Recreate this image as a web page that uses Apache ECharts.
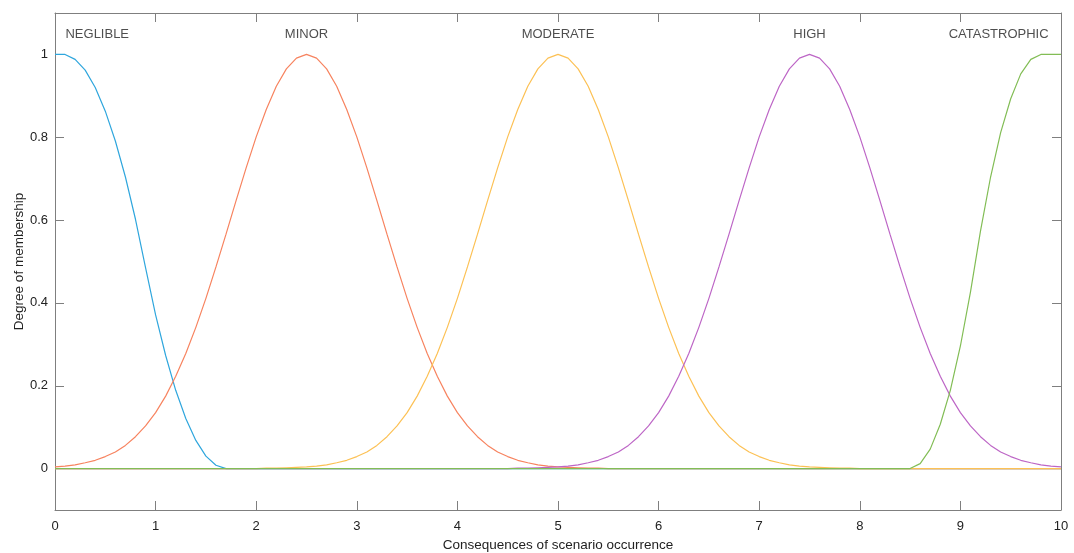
<!DOCTYPE html>
<html>
<head>
<meta charset="utf-8">
<script src="https://cdn.jsdelivr.net/npm/echarts@6/dist/echarts.min.js"></script>
<style>
  html, body { margin: 0; padding: 0; background: #ffffff; }
  #chart { width: 1074px; height: 553px; }
</style>
</head>
<body>
<div id="chart"></div>
<script>
// x sampling positions (0 to 10, step 0.1)
const xValues = [
  0.0,0.1,0.2,0.3,0.4,0.5,0.6,0.7,0.8,0.9,
  1.0,1.1,1.2,1.3,1.4,1.5,1.6,1.7,1.8,1.9,
  2.0,2.1,2.2,2.3,2.4,2.5,2.6,2.7,2.8,2.9,
  3.0,3.1,3.2,3.3,3.4,3.5,3.6,3.7,3.8,3.9,
  4.0,4.1,4.2,4.3,4.4,4.5,4.6,4.7,4.8,4.9,
  5.0,5.1,5.2,5.3,5.4,5.5,5.6,5.7,5.8,5.9,
  6.0,6.1,6.2,6.3,6.4,6.5,6.6,6.7,6.8,6.9,
  7.0,7.1,7.2,7.3,7.4,7.5,7.6,7.7,7.8,7.9,
  8.0,8.1,8.2,8.3,8.4,8.5,8.6,8.7,8.8,8.9,
  9.0,9.1,9.2,9.3,9.4,9.5,9.6,9.7,9.8,9.9,
  10.0
];

const negligible = [
  1.000,1.000,0.988,0.962,0.920,0.863,0.791,0.704,0.602,0.485,
  0.371,0.273,0.189,0.121,0.068,0.030,0.008,0,0,0,
  0,0,0,0,0,0,0,0,0,0,
  0,0,0,0,0,0,0,0,0,0,
  0,0,0,0,0,0,0,0,0,0,
  0,0,0,0,0,0,0,0,0,0,
  0,0,0,0,0,0,0,0,0,0,
  0,0,0,0,0,0,0,0,0,0,
  0,0,0,0,0,0,0,0,0,0,
  0,0,0,0,0,0,0,0,0,0,
  0
];

const minor = [
  0.004,0.006,0.009,0.014,0.020,0.029,0.040,0.056,0.077,0.103,
  0.135,0.175,0.223,0.278,0.341,0.411,0.487,0.566,0.647,0.726,
  0.801,0.867,0.923,0.965,0.991,1.000,0.991,0.965,0.923,0.867,
  0.801,0.726,0.647,0.566,0.487,0.411,0.341,0.278,0.223,0.175,
  0.135,0.103,0.077,0.056,0.040,0.029,0.020,0.014,0.009,0.006,
  0.004,0.003,0.002,0.001,0.001,0,0,0,0,0,
  0,0,0,0,0,0,0,0,0,0,
  0,0,0,0,0,0,0,0,0,0,
  0,0,0,0,0,0,0,0,0,0,
  0,0,0,0,0,0,0,0,0,0,
  0
];

const moderate = [
  0,0,0,0,0,0,0,0,0,0,
  0,0,0,0,0,0,0,0,0,0,
  0,0.001,0.001,0.002,0.003,0.004,0.006,0.009,0.014,0.020,
  0.029,0.040,0.056,0.077,0.103,0.135,0.175,0.223,0.278,0.341,
  0.411,0.487,0.566,0.647,0.726,0.801,0.867,0.923,0.965,0.991,
  1.000,0.991,0.965,0.923,0.867,0.801,0.726,0.647,0.566,0.487,
  0.411,0.341,0.278,0.223,0.175,0.135,0.103,0.077,0.056,0.040,
  0.029,0.020,0.014,0.009,0.006,0.004,0.003,0.002,0.001,0.001,
  0,0,0,0,0,0,0,0,0,0,
  0,0,0,0,0,0,0,0,0,0,
  0
];

const high = [
  0,0,0,0,0,0,0,0,0,0,
  0,0,0,0,0,0,0,0,0,0,
  0,0,0,0,0,0,0,0,0,0,
  0,0,0,0,0,0,0,0,0,0,
  0,0,0,0,0,0,0.001,0.001,0.002,0.003,
  0.004,0.006,0.009,0.014,0.020,0.029,0.040,0.056,0.077,0.103,
  0.135,0.175,0.223,0.278,0.341,0.411,0.487,0.566,0.647,0.726,
  0.801,0.867,0.923,0.965,0.991,1.000,0.991,0.965,0.923,0.867,
  0.801,0.726,0.647,0.566,0.487,0.411,0.341,0.278,0.223,0.175,
  0.135,0.103,0.077,0.056,0.040,0.029,0.020,0.014,0.009,0.006,
  0.004
];

const catastrophic = [
  0,0,0,0,0,0,0,0,0,0,
  0,0,0,0,0,0,0,0,0,0,
  0,0,0,0,0,0,0,0,0,0,
  0,0,0,0,0,0,0,0,0,0,
  0,0,0,0,0,0,0,0,0,0,
  0,0,0,0,0,0,0,0,0,0,
  0,0,0,0,0,0,0,0,0,0,
  0,0,0,0,0,0,0,0,0,0,
  0,0,0,0,0,0,0.012,0.047,0.107,0.189,
  0.296,0.426,0.574,0.704,0.811,0.893,0.953,0.988,1.000,1.000,
  1.000
];

const seriesNames = ['NEGLIBLE', 'MINOR', 'MODERATE', 'HIGH', 'CATASTROPHIC'];
const seriesValues = [negligible, minor, moderate, high, catastrophic];
const seriesColors = ['#2fa6dd', '#f7835f', '#fcc155', '#bd66c6', '#82bd55'];

// term label anchor positions (x in data units), placed above the curves
const termLabelX = [0.42, 2.5, 5.0, 7.5, 9.38];
const termLabelY = 1.048;

const xTicks = [0,1,2,3,4,5,6,7,8,9,10];
const yTicks = [0, 0.2, 0.4, 0.6, 0.8, 1];

const axisColor = '#7f7f7f';
const textColor = '#222222';
const fontFamily = '"Liberation Sans", Arial, Helvetica, sans-serif';

const chart = echarts.init(document.getElementById('chart'), null, { renderer: 'canvas' });

const lineSeries = seriesNames.map((name, k) => ({
  name: name,
  type: 'line',
  showSymbol: false,
  symbol: 'none',
  animation: false,
  data: xValues.map((x, i) => [x, seriesValues[k][i]]),
  lineStyle: { color: seriesColors[k], width: 1.2 },
  itemStyle: { color: seriesColors[k] },
  z: 2 + k
}));

const labelSeries = {
  type: 'scatter',
  symbolSize: 0,
  silent: true,
  animation: false,
  data: seriesNames.map((n, k) => ({ value: [termLabelX[k], termLabelY], name: n })),
  label: {
    show: true,
    position: 'inside',
    formatter: p => p.name,
    color: textColor,
    fontSize: 13,
    fontFamily: fontFamily
  },
  z: 10
};

const option = {
  backgroundColor: '#ffffff',
  animation: false,
  grid: { left: 55, right: 13, top: 13, bottom: 43, containLabel: false, outerBoundsMode: 'none' },
  xAxis: [
    {
      type: 'value',
      min: 0, max: 10, interval: 1,
      position: 'bottom',
      name: 'Consequences of scenario occurrence',
      nameLocation: 'middle',
      nameGap: 28,
      nameMoveOverlap: false,
      nameTextStyle: { color: textColor, fontSize: 13.5, fontFamily: fontFamily },
      axisLine: { show: true, onZero: false, lineStyle: { color: axisColor, width: 1 } },
      axisTick: { show: true, inside: true, length: 9, lineStyle: { color: axisColor } },
      axisLabel: { color: textColor, fontSize: 13, fontFamily: fontFamily, margin: 10,
                   customValues: xTicks },
      splitLine: { show: false }
    },
    {
      type: 'value',
      min: 0, max: 10, interval: 1,
      position: 'top',
      axisLine: { show: true, onZero: false, lineStyle: { color: axisColor, width: 1 } },
      axisTick: { show: true, inside: true, length: 9, lineStyle: { color: axisColor } },
      axisLabel: { show: false },
      splitLine: { show: false }
    }
  ],
  yAxis: [
    {
      type: 'value',
      min: -0.1, max: 1.1,
      position: 'left',
      name: 'Degree of membership',
      nameLocation: 'middle',
      nameGap: 29,
      nameMoveOverlap: false,
      nameRotate: 90,
      nameTextStyle: { color: textColor, fontSize: 13.5, fontFamily: fontFamily },
      axisLine: { show: true, onZero: false, lineStyle: { color: axisColor, width: 1 } },
      axisTick: { show: true, inside: true, length: 9, lineStyle: { color: axisColor },
                  customValues: yTicks },
      axisLabel: { color: textColor, fontSize: 13, fontFamily: fontFamily, margin: 7,
                   customValues: yTicks, formatter: v => String(Math.round(v * 10) / 10) },
      splitLine: { show: false }
    },
    {
      type: 'value',
      min: -0.1, max: 1.1,
      position: 'right',
      axisLine: { show: true, onZero: false, lineStyle: { color: axisColor, width: 1 } },
      axisTick: { show: true, inside: true, length: 9, lineStyle: { color: axisColor },
                  customValues: yTicks },
      axisLabel: { show: false, customValues: yTicks },
      splitLine: { show: false }
    }
  ],
  series: lineSeries.concat([labelSeries])
};

chart.setOption(option);
</script>
</body>
</html>
